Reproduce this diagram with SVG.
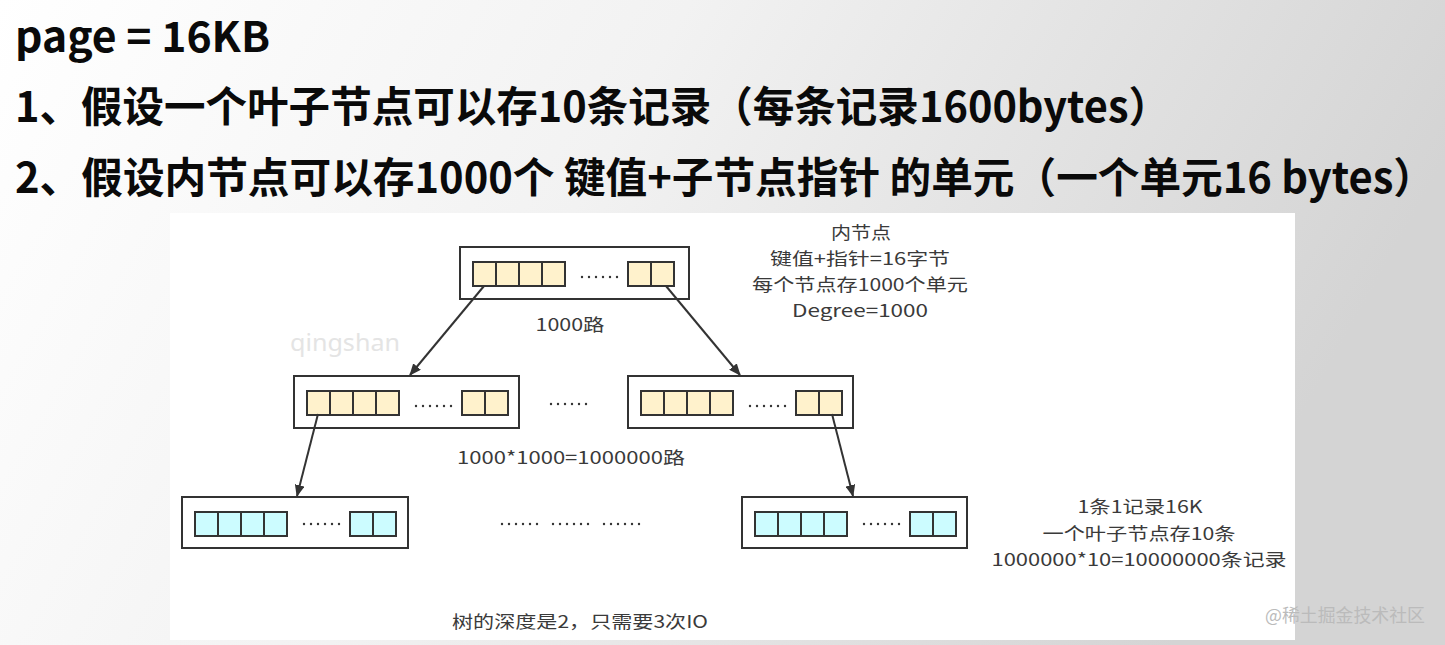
<svg xmlns="http://www.w3.org/2000/svg" xmlns:xlink="http://www.w3.org/1999/xlink" width="1445" height="645" viewBox="0 0 1445 645">
<defs>
<linearGradient id="bg" x1="0" y1="0" x2="1" y2="0.25">
<stop offset="0" stop-color="#ffffff"/>
<stop offset="0.45" stop-color="#f2f2f2"/>
<stop offset="1" stop-color="#d4d4d4"/>
</linearGradient>
<marker id="arr" viewBox="0 0 12 10" refX="11" refY="5" markerWidth="12" markerHeight="10" markerUnits="userSpaceOnUse" orient="auto">
<path d="M0,0 L12,5 L0,10 z" fill="#333"/>
</marker>
<g id="dots6">
<circle cx="0" cy="0" r="1.2"/><circle cx="7" cy="0" r="1.2"/><circle cx="14" cy="0" r="1.2"/><circle cx="21" cy="0" r="1.2"/><circle cx="28" cy="0" r="1.2"/><circle cx="35" cy="0" r="1.2"/>
</g>
<g id="cellrow">
<rect x="13" y="15" width="23" height="24"/><rect x="36" y="15" width="23" height="24"/><rect x="59" y="15" width="23" height="24"/><rect x="82" y="15" width="23" height="24"/>
<rect x="168" y="15" width="23" height="24"/><rect x="191" y="15" width="23" height="24"/>
</g>
</defs>
<style>
.outer{fill:#fff;stroke:#333;stroke-width:2}
.inner .cells{stroke:#333;stroke-width:2;fill:#fff2cc}
.leaf .cells{stroke:#333;stroke-width:2;fill:#ccfcff}
.dots{fill:#333}
.title{font-family:"Noto Sans CJK SC","Noto Sans",sans-serif;font-weight:bold;font-size:42px;fill:#0a0a0a}
.lbl{font-family:"Noto Sans CJK SC","Noto Sans",sans-serif;font-size:17.5px;fill:#3a3a3a;text-anchor:middle}
.conn line{stroke:#333;stroke-width:2;marker-end:url(#arr)}
</style>
<rect x="0" y="0" width="1445" height="645" fill="url(#bg)"/>
<rect x="170" y="213" width="1125" height="427" fill="#fff"/>
<text x="290" y="351" font-family="Noto Sans, sans-serif" font-size="23" fill="#e4e4e4" textLength="110" lengthAdjust="spacingAndGlyphs">qingshan</text>

<g id="titles">
<text class="title" x="15" y="52" textLength="255" lengthAdjust="spacingAndGlyphs">page = 16KB</text>
<text class="title" x="15" y="122" textLength="1155" lengthAdjust="spacingAndGlyphs">1、假设一个叶子节点可以存10条记录（每条记录1600bytes）</text>
<text class="title" x="15" y="193" textLength="1420" lengthAdjust="spacingAndGlyphs">2、假设内节点可以存1000个 键值+子节点指针 的单元（一个单元16 bytes）</text>
</g>

<g id="node-root" class="inner" transform="translate(460,247)">
<rect class="outer" x="0" y="0" width="229" height="52"/>
<use class="cells" href="#cellrow"/>
<use class="dots" href="#dots6" x="122" y="30"/>
</g>
<g id="node-mid-left" class="inner" transform="translate(294,376)">
<rect class="outer" x="0" y="0" width="225" height="52"/>
<use class="cells" href="#cellrow"/>
<use class="dots" href="#dots6" x="122" y="30"/>
</g>
<g id="node-mid-right" class="inner" transform="translate(628,376)">
<rect class="outer" x="0" y="0" width="225" height="52"/>
<use class="cells" href="#cellrow"/>
<use class="dots" href="#dots6" x="122" y="30"/>
</g>
<g id="node-leaf-left" class="leaf" transform="translate(182,497)">
<rect class="outer" x="0" y="0" width="226" height="51"/>
<use class="cells" href="#cellrow"/>
<use class="dots" href="#dots6" x="122" y="27"/>
</g>
<g id="node-leaf-right" class="leaf" transform="translate(742,497)">
<rect class="outer" x="0" y="0" width="225" height="51"/>
<use class="cells" href="#cellrow"/>
<use class="dots" href="#dots6" x="122" y="27"/>
</g>

<g id="ellipses" class="dots">
<use href="#dots6" x="551" y="404"/>
<use href="#dots6" x="502" y="524"/>
<use href="#dots6" x="553" y="524"/>
<use href="#dots6" x="604" y="524"/>
</g>

<g id="connectors" class="conn">
<line x1="484" y1="286" x2="410" y2="375"/>
<line x1="666" y1="286" x2="740" y2="375"/>
<line x1="318" y1="414" x2="297" y2="496"/>
<line x1="832" y1="414" x2="853" y2="496"/>
</g>

<g id="labels">
<text class="lbl" x="861" y="239" textLength="60" lengthAdjust="spacingAndGlyphs">内节点</text>
<text class="lbl" x="860" y="265" textLength="180" lengthAdjust="spacingAndGlyphs">键值+指针=16字节</text>
<text class="lbl" x="860" y="291" textLength="216" lengthAdjust="spacingAndGlyphs">每个节点存1000个单元</text>
<text class="lbl" x="860" y="317" textLength="136" lengthAdjust="spacingAndGlyphs">Degree=1000</text>
<text class="lbl" x="570" y="331" textLength="69" lengthAdjust="spacingAndGlyphs">1000路</text>
<text class="lbl" x="571" y="464" textLength="228" lengthAdjust="spacingAndGlyphs">1000*1000=1000000路</text>
<text class="lbl" x="1140" y="513" textLength="125" lengthAdjust="spacingAndGlyphs">1条1记录16K</text>
<text class="lbl" x="1139" y="540" textLength="193" lengthAdjust="spacingAndGlyphs">一个叶子节点存10条</text>
<text class="lbl" x="1139" y="566" textLength="295" lengthAdjust="spacingAndGlyphs">1000000*10=10000000条记录</text>
<text class="lbl" x="580" y="628" textLength="256" lengthAdjust="spacingAndGlyphs">树的深度是2，只需要3次IO</text>
</g>
<text x="1265" y="622" font-family="Noto Sans CJK SC, sans-serif" font-size="18" fill="#bbbbbb" textLength="160" lengthAdjust="spacingAndGlyphs">@稀土掘金技术社区</text>
</svg>
